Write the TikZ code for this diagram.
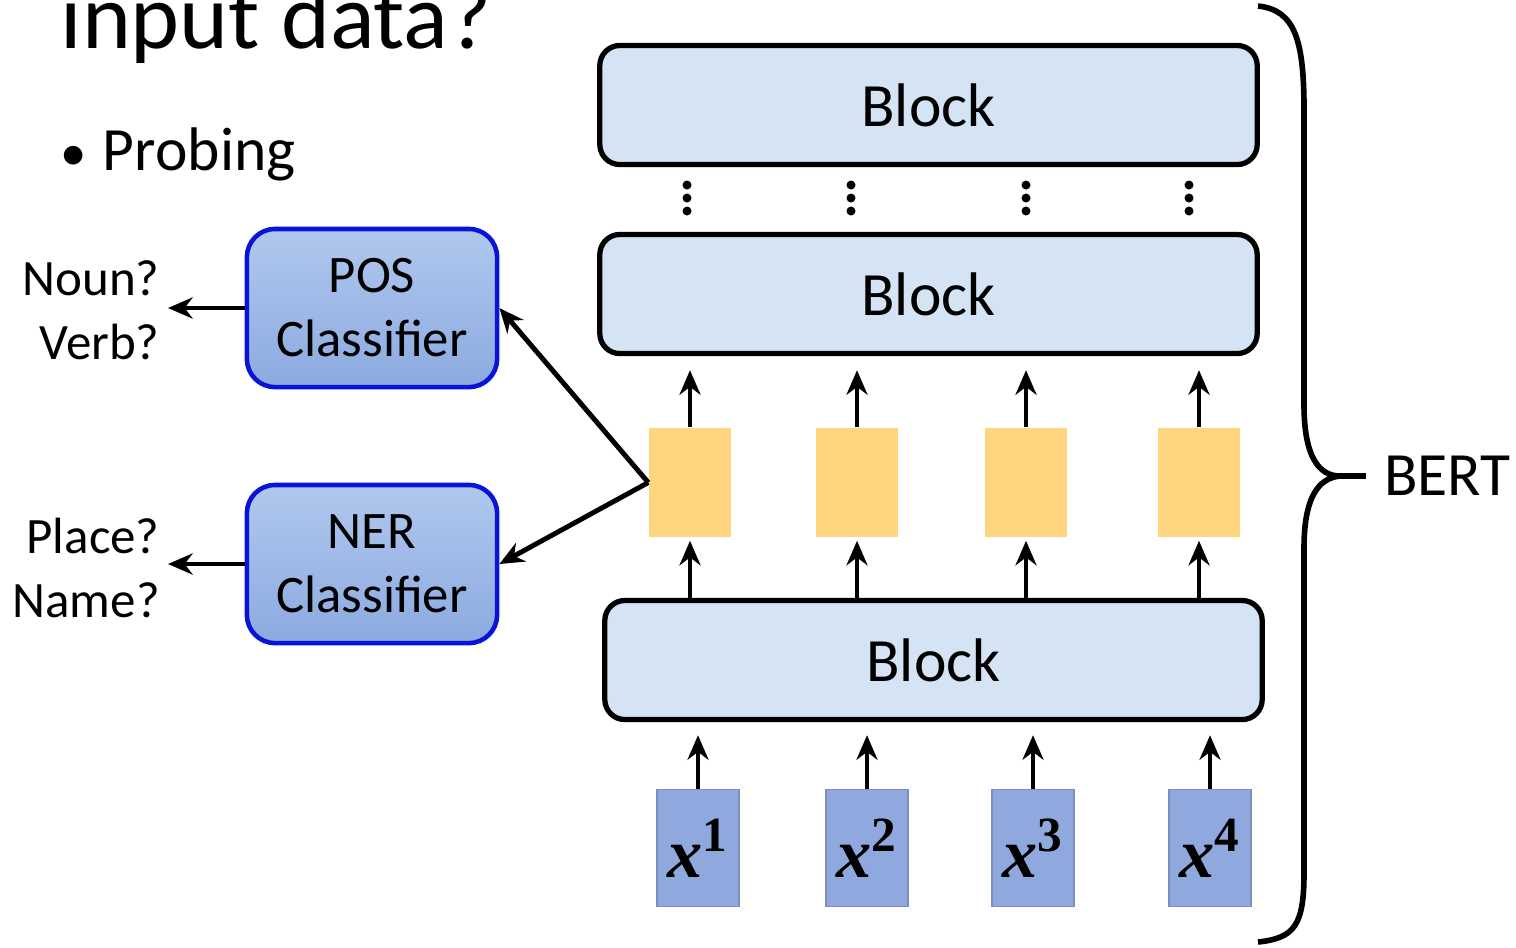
\documentclass[tikz,border=0pt]{standalone}
\usepackage{fontspec}
\setmainfont{Carlito}
\newfontfamily\xfont{Liberation Serif}
\usetikzlibrary{arrows.meta,positioning,calc}
\definecolor{blockfill}{RGB}{212,228,245}
\definecolor{probeblue}{RGB}{10,20,215}
\definecolor{probetop}{RGB}{176,200,238}
\definecolor{probebot}{RGB}{140,170,224}
\definecolor{hidyellow}{RGB}{255,213,128}
\definecolor{inblue}{RGB}{143,168,222}
\newcommand{\xin}[1]{{\xfont\bfseries\itshape\fontsize{20}{22}\selectfont x\textsuperscript{\upshape #1}}}

\begin{document}
\begin{tikzpicture}[x=0.01cm,y=-0.01cm,
  blockbox/.style={draw=black, line width=1.5pt, fill=blockfill, rounded corners=0.2cm,
    minimum width=6.57cm, minimum height=1.19cm, font=\fontsize{17.5}{21}\selectfont},
  probebox/.style={draw=probeblue, line width=1.3pt, top color=probetop, bottom color=probebot,
    rounded corners=0.28cm, minimum width=2.5cm, minimum height=1.58cm, align=center,
    font=\fontsize{15}{18.2}\selectfont},
  hidbox/.style={fill=hidyellow, minimum width=0.82cm, minimum height=1.09cm},
  inbox/.style={fill=inblue, draw=inblue!85!black, line width=0.4pt, inner sep=0pt,
    minimum width=0.82cm, minimum height=1.17cm},
  lbl/.style={align=right, font=\fontsize{14.5}{18.2}\selectfont},
  arr/.style={-{Stealth[length=7pt,width=6pt]}, line width=1.1pt}]
\useasboundingbox (0,0) rectangle (1516,947);
\clip (0,0) rectangle (1516,947);
% Title and bullet
\node[anchor=base west, inner sep=0, font=\fontsize{26.5}{30}\selectfont] (title) at (60,48) {input data?};
\node[anchor=base west, inner sep=0, font=\fontsize{17.5}{21}\selectfont] (probing) at (60,170) {{\fontsize{15}{15}\selectfont\textbullet}\hspace{0.16cm}Probing};
% BERT blocks
\node[blockbox] (blkN) at (928.5,105) {Block};
\node[blockbox] (blk2) at (928.5,294) {Block};
\node[blockbox] (blk1) at (933.5,660) {Block};
% vertical dots
\foreach \dx in {687,851,1026,1189} {
  \foreach \dy in {185,198,211} {
    \fill (\dx,\dy) circle (0.045cm);
  }
}
% hidden vectors and inputs
\foreach \i/\hx/\xx in {1/690/698,2/857/867,3/1026/1033,4/1199/1210} {
  \node[hidbox] (h\i) at (\hx,482.5) {};
  \node[inbox] (x\i) at (\xx,848) {\xin{\i}};
  \draw[arr, shorten >=0.13cm] (x\i.north) -- (x\i.north |- blk1.south);
  \draw[arr, shorten >=0.03cm] (h\i.south |- blk1.north) -- (h\i.south);
  \draw[arr, shorten >=0.14cm] (h\i.north) -- (h\i.north |- blk2.south);
}
% probing classifiers
\node[probebox] (pos) at (372,308) {POS\\Classifier};
\node[probebox] (ner) at (372,564) {NER\\Classifier};
\draw[arr, line width=1.4pt] (h1.west) -- (pos.east);
\draw[arr, line width=1.4pt] (h1.west) -- (ner.east);
\coordinate (posout) at (168,308);
\coordinate (nerout) at (168,564);
\draw[arr, line width=1.4pt] (pos.west) -- (posout);
\draw[arr, line width=1.4pt] (ner.west) -- (nerout);
\node[lbl, anchor=east] (poslbl) at (172,310) {Noun?\\Verb?};
\node[lbl, anchor=east] (nerlbl) at (172,568) {Place?\\Name?};
% brace
\coordinate (tip) at (1340,476);
\draw[line width=1.6pt] (1258,6) .. controls (1295,10) and (1304,40) .. (1304,110)
  -- (1304,405) .. controls (1304,455) and (1318,476) .. (tip)
  .. controls (1318,478) and (1304,498) .. (1304,548)
  -- (1304,872) .. controls (1304,925) and (1295,938) .. (1258,942);
\draw[line width=1.6pt] (tip) -- (1366,476);
\node[anchor=west, font=\fontsize{17.5}{21}\selectfont] (bert) at (1372,476) {BERT};
\end{tikzpicture}
\end{document}
